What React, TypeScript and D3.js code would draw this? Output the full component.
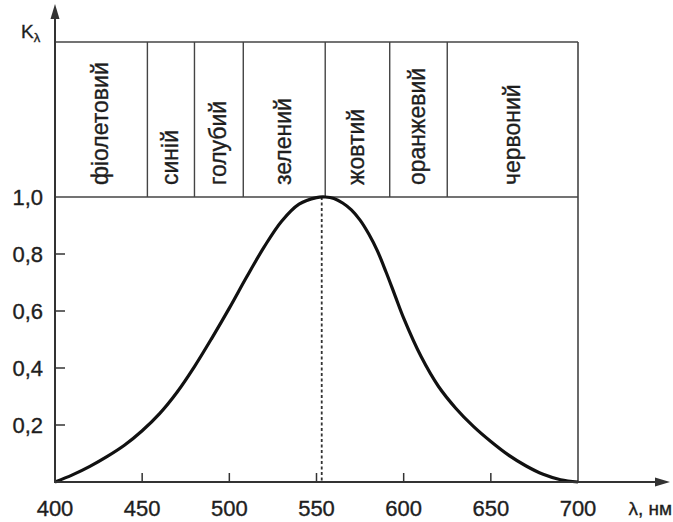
import React, { useEffect, useRef } from 'react';
import * as d3 from 'd3';

// spectral colour bands (nm) and their names
const bandEdges = [400, 453, 480, 508, 555, 592, 625, 700];
const bandNames = ['фіолетовий', 'синій', 'голубий', 'зелений', 'жовтий', 'оранжевий', 'червоний'];

// relative spectral sensitivity K(λ)
const wavelengths = [400, 410, 420, 430, 440, 450, 460, 470, 480, 490, 500, 510, 520, 530, 540, 550, 555, 560, 565, 570, 575, 580, 585, 590, 595, 600, 610, 620, 630, 640, 650, 660, 670, 680, 690, 700];
const sensitivity = [0, 0.025, 0.055, 0.09, 0.13, 0.18, 0.24, 0.315, 0.405, 0.505, 0.61, 0.72, 0.825, 0.915, 0.975, 0.998, 1.0, 0.995, 0.979, 0.955, 0.919, 0.87, 0.81, 0.735, 0.655, 0.575, 0.44, 0.335, 0.258, 0.195, 0.142, 0.095, 0.057, 0.027, 0.008, 0];

const xTicks = [400, 450, 500, 550, 600, 650, 700];
const yTicks = [0.2, 0.4, 0.6, 0.8, 1.0];
const peakWavelength = 553;

const App: React.FC = () => {
  const svgRef = useRef<SVGSVGElement>(null);

  useEffect(() => {
    if (!svgRef.current) return;
    const width = 673;
    const height = 522;
    const font = '"Liberation Sans", Arial, sans-serif';
    const ink = '#1e1e1e';

    const svg = d3.select(svgRef.current);
    svg.selectAll('*').remove();
    svg.attr('width', width).attr('height', height).attr('viewBox', `0 0 ${width} ${height}`);

    const x = d3.scaleLinear().domain([400, 700]).range([55, 578]);
    const y = d3.scaleLinear().domain([0, 1]).range([482, 197]);
    const boxTop = 42;

    // slightly heavier text, like the scanned original
    const styleText = (sel: any, size: number) =>
      sel.attr('font-family', font)
        .attr('font-size', size)
        .attr('fill', ink)
        .attr('stroke', ink)
        .attr('stroke-width', 0.35);

    // band box
    const box = svg.append('g');
    box.append('line')
      .attr('x1', x(400)).attr('x2', x(700))
      .attr('y1', boxTop).attr('y2', boxTop)
      .attr('stroke', '#444').attr('stroke-width', 1.6);
    box.append('line')
      .attr('x1', x(400)).attr('x2', x(700))
      .attr('y1', y(1)).attr('y2', y(1))
      .attr('stroke', '#444').attr('stroke-width', 1.6);
    box.selectAll('line.edge')
      .data(bandEdges.slice(1, -1))
      .enter().append('line')
      .attr('class', 'edge')
      .attr('x1', d => x(d)).attr('x2', d => x(d))
      .attr('y1', boxTop).attr('y2', y(1))
      .attr('stroke', '#444').attr('stroke-width', 1.4);
    // right border goes down to the axis
    box.append('line')
      .attr('x1', x(700)).attr('x2', x(700))
      .attr('y1', boxTop).attr('y2', y(0))
      .attr('stroke', '#444').attr('stroke-width', 1.6);

    styleText(
      box.selectAll('text.band')
        .data(bandNames)
        .enter().append('text')
        .attr('class', 'band')
        .attr('transform', (d, i) => `translate(${(x(bandEdges[i]) + x(bandEdges[i + 1])) / 2 - 1},185) rotate(-90)`)
        .attr('dominant-baseline', 'central'),
      23
    ).text((d: string) => d);

    // dashed line at the peak
    svg.append('line')
      .attr('x1', x(peakWavelength)).attr('x2', x(peakWavelength))
      .attr('y1', y(1)).attr('y2', y(0))
      .attr('stroke', '#333').attr('stroke-width', 1.8)
      .attr('stroke-dasharray', '3,2.5');

    // curve
    const points: [number, number][] = wavelengths.map((w, i) => [w, sensitivity[i]]);
    const line = d3.line<[number, number]>()
      .x(d => x(d[0]))
      .y(d => y(d[1]))
      .curve(d3.curveCatmullRom.alpha(0.5));
    svg.append('path')
      .datum(points)
      .attr('d', line)
      .attr('fill', 'none')
      .attr('stroke', '#111')
      .attr('stroke-width', 3.2);

    // axes
    const axisColor = '#333';
    svg.append('line')
      .attr('x1', x(400)).attr('x2', 658)
      .attr('y1', y(0)).attr('y2', y(0))
      .attr('stroke', axisColor).attr('stroke-width', 2);
    svg.append('path')
      .attr('d', `M670,${y(0)} L655,${y(0) - 4.5} L655,${y(0) + 4.5} Z`)
      .attr('fill', axisColor);
    svg.append('line')
      .attr('x1', x(400)).attr('x2', x(400))
      .attr('y1', y(0) + 1).attr('y2', 18)
      .attr('stroke', axisColor).attr('stroke-width', 2);
    svg.append('path')
      .attr('d', `M${x(400)},4 L${x(400) - 4.5},19 L${x(400) + 4.5},19 Z`)
      .attr('fill', axisColor);

    // x ticks (inward)
    svg.selectAll('line.xt')
      .data(xTicks.slice(1, -1))
      .enter().append('line')
      .attr('class', 'xt')
      .attr('x1', d => x(d)).attr('x2', d => x(d))
      .attr('y1', y(0)).attr('y2', y(0) - 9)
      .attr('stroke', axisColor).attr('stroke-width', 1.5);
    styleText(
      svg.selectAll('text.xl')
        .data(xTicks)
        .enter().append('text')
        .attr('class', 'xl')
        .attr('x', d => x(d))
        .attr('y', 516)
        .attr('text-anchor', 'middle'),
      22
    ).text((d: number) => d);

    // y ticks (inward)
    svg.selectAll('line.yt')
      .data(yTicks.slice(0, -1))
      .enter().append('line')
      .attr('class', 'yt')
      .attr('x1', x(400)).attr('x2', x(400) + 10)
      .attr('y1', d => y(d)).attr('y2', d => y(d))
      .attr('stroke', axisColor).attr('stroke-width', 1.5);
    styleText(
      svg.selectAll('text.yl')
        .data(yTicks)
        .enter().append('text')
        .attr('class', 'yl')
        .attr('x', 43)
        .attr('y', d => y(d))
        .attr('dy', '0.36em')
        .attr('text-anchor', 'end'),
      22
    ).text((d: number) => d.toFixed(1).replace('.', ','));

    // axis titles
    const kLabel = styleText(svg.append('text').attr('x', 21).attr('y', 38), 19);
    kLabel.append('tspan').text('K');
    kLabel.append('tspan').attr('dy', 4).attr('font-size', 13).text('λ');

    styleText(
      svg.append('text')
        .attr('x', 672).attr('y', 515)
        .attr('text-anchor', 'end'),
      19
    ).text('λ, нм');
  }, []);

  return <svg ref={svgRef} style={{ position: 'absolute', left: 0, top: 0, background: '#fff' }}></svg>;
};

export default App;
